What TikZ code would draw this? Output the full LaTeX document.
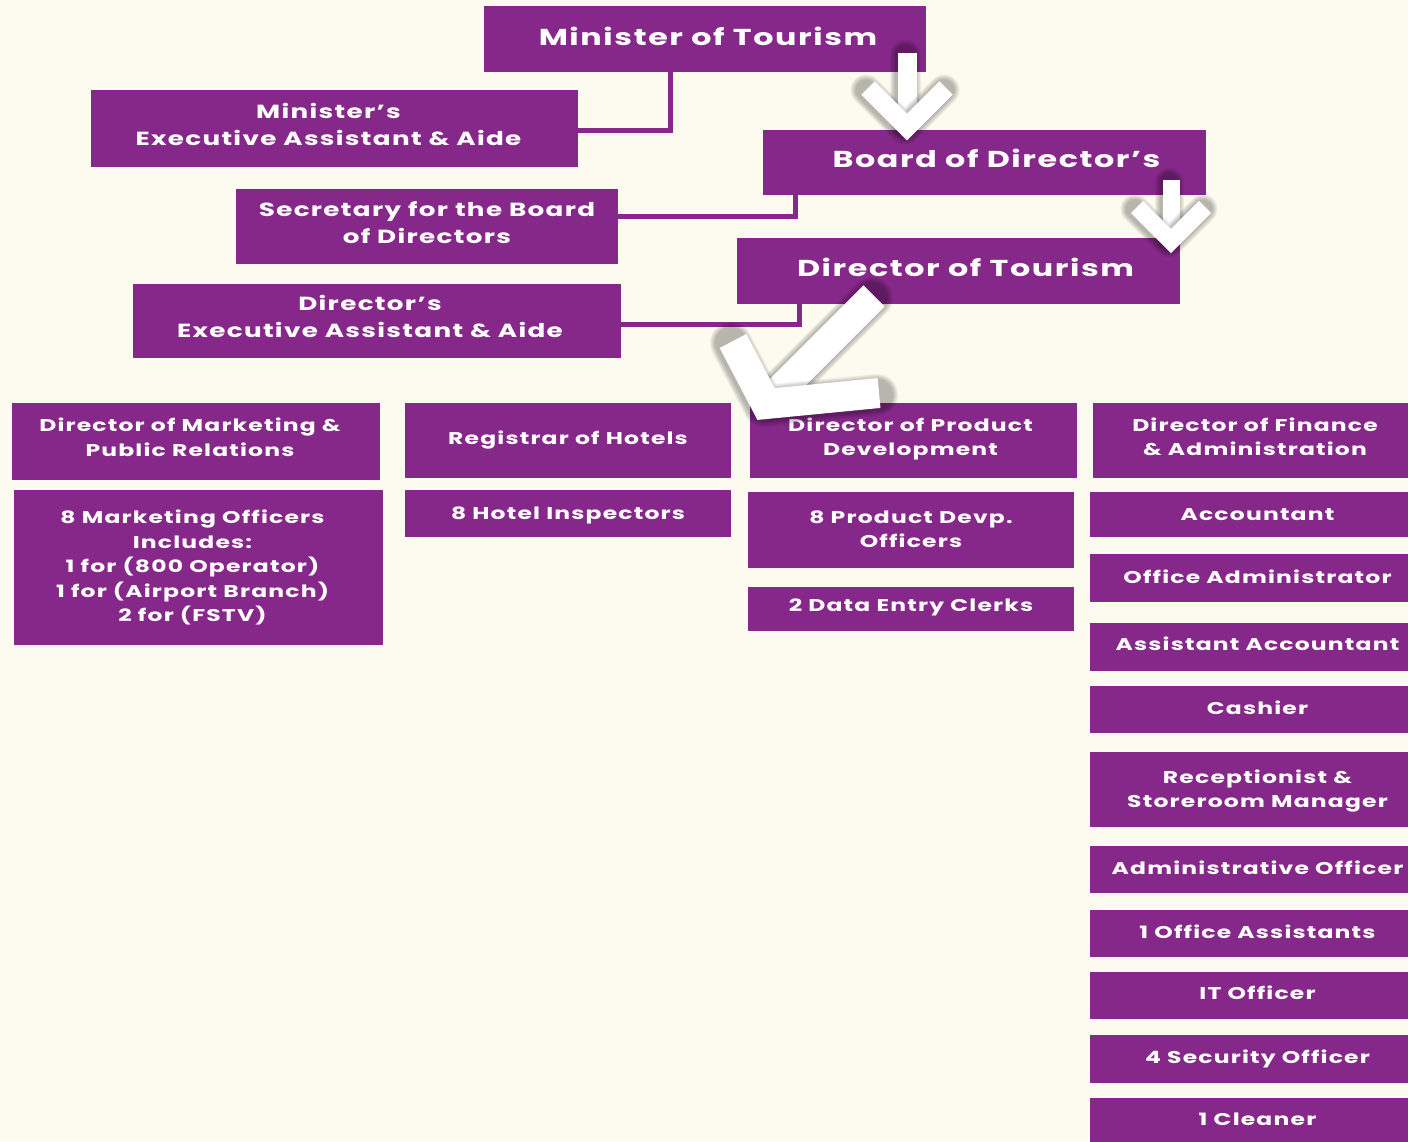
\documentclass[tikz,border=0pt]{standalone}
\usepackage{fontspec}
\setmainfont{Poppins}[FakeStretch=1.38,LetterSpace=7]
\definecolor{purp}{HTML}{862889}
\definecolor{bg}{HTML}{FDFBEF}
\newcommand{\wharrow}[2]{%
  \foreach \k in {1,...,6}{%
    \pgfmathsetmacro\lw{#1+2*\k}%
    \draw[black, opacity=0.05, line width=\lw pt, line join=round, line cap=round, xshift=-2pt, yshift=-2pt] #2;}
  \draw[white, line width=#1pt, line join=miter] #2;}
% \bx{font style}{name}{cx}{cy}{w}{h}{text}
\newcommand{\bx}[7]{%
  \node[box,minimum width=#5pt,minimum height=#6pt] (#2) at (#3,#4) {};
  \node[txt,#1] (#2-t) at (#2.center) {#7};}
\begin{document}
\begin{tikzpicture}[x=1pt,y=-1pt,
  box/.style={fill=purp, inner sep=0pt},
  txt/.style={text=white, inner sep=0pt, align=center},
  big/.style={font=\fontsize{23}{27}\selectfont\bfseries},
  mid/.style={font=\fontsize{19}{27}\selectfont\bfseries},
  sml/.style={font=\fontsize{17}{24.5}\selectfont\bfseries},
  conn/.style={draw=purp, line width=5pt},
]
\fill[bg] (0,0) rectangle (1408,1141);
\useasboundingbox (0,0) rectangle (1408,1141);

% top hierarchy
\bx{big,yshift=3pt,xshift=3pt}{min}{705}{39}{442}{66}{Minister of Tourism}
\bx{mid,yshift=4pt,xshift=-6pt}{mea}{334.5}{128.5}{487}{77}{Minister’s\\Executive Assistant \& Aide}
\bx{big,yshift=4pt,xshift=12pt}{bod}{984.5}{162.5}{443}{65}{Board of Director’s}
\bx{mid,yshift=4pt}{sec}{427}{226.5}{382}{75}{Secretary for the Board\\of Directors}
\bx{big,yshift=4pt,xshift=7pt}{dot}{958.5}{271}{443}{66}{Director of Tourism}
\bx{mid,yshift=5pt,xshift=-7pt}{dea}{377}{321}{488}{74}{Director’s\\Executive Assistant \& Aide}

\draw[conn] ([xshift=-35pt]min.south) |- ([yshift=-1.5pt]mea.east);
\draw[conn] ([xshift=-189.5pt]bod.south) |- ([yshift=10.5pt]sec.east);
\draw[conn] ([xshift=-159.5pt]dot.south) |- ([yshift=-3pt]dea.east);

% column 1
\bx{sml,yshift=4pt,xshift=-6pt}{dmk}{196}{441.5}{368}{77}{Director of Marketing \&\\Public Relations}
\bx{sml,xshift=-6pt}{mko}{198.5}{567.5}{369}{155}{8 Marketing Officers\\Includes:\\1 for (800 Operator)\\1 for (Airport Branch)\\2 for (FSTV)}
% column 2
\bx{sml}{reg}{568}{440.5}{326}{75}{Registrar of Hotels}
\bx{sml,yshift=-2pt}{hin}{568}{513.5}{326}{47}{8 Hotel Inspectors}
% column 3
\bx{sml,yshift=1.5pt,xshift=-3pt}{dpd}{913.5}{440.5}{327}{75}{Director of Product\\Development}
\bx{sml,yshift=1pt}{pdo}{911}{530}{326}{76}{8 Product Devp.\\Officers}
\bx{sml,yshift=2pt}{dec}{911}{609}{326}{44}{2 Data Entry Clerks}
% column 4
\bx{sml,yshift=3.5pt,xshift=-4pt}{dfa}{1259}{440.5}{332}{75}{Director of Finance\\\& Administration}
\bx{sml}{acc}{1257.5}{514.5}{335}{45}{Accountant}
\bx{sml,yshift=1pt}{oad}{1257.5}{578}{335}{48}{Office Administrator}
\bx{sml,yshift=3pt}{aac}{1257.5}{647}{335}{48}{Assistant Accountant}
\bx{sml,yshift=2pt}{cas}{1257.5}{709.5}{335}{47}{Cashier}
\bx{sml,yshift=-1.5pt}{rec}{1257.5}{789.5}{335}{75}{Receptionist \&\\Storeroom Manager}
\bx{sml,yshift=2pt}{aof}{1257.5}{869.5}{335}{47}{Administrative Officer}
\bx{sml,yshift=2pt}{ofa}{1257.5}{933.5}{335}{47}{1 Office Assistants}
\bx{sml,yshift=3pt}{ito}{1257.5}{995.5}{335}{47}{IT Officer}
\bx{sml}{sso}{1257.5}{1059}{335}{48}{4 Security Officer}
\bx{sml,yshift=2pt}{cln}{1257.5}{1121.5}{335}{47}{1 Cleaner}

% white arrows
\wharrow{19}{(907,53) -- (907,120)}
\wharrow{19}{(868,88) -- (907,127) -- (946,88)}
\wharrow{17}{(1171,180) -- (1171,235)}
\wharrow{17}{(1137,207) -- (1171,241) -- (1205,207)}
\wharrow{30}{(874,296) -- (772,398)}
\wharrow{30}{(733,341) -- (766,404) -- (879,393)}
\end{tikzpicture}
\end{document}
